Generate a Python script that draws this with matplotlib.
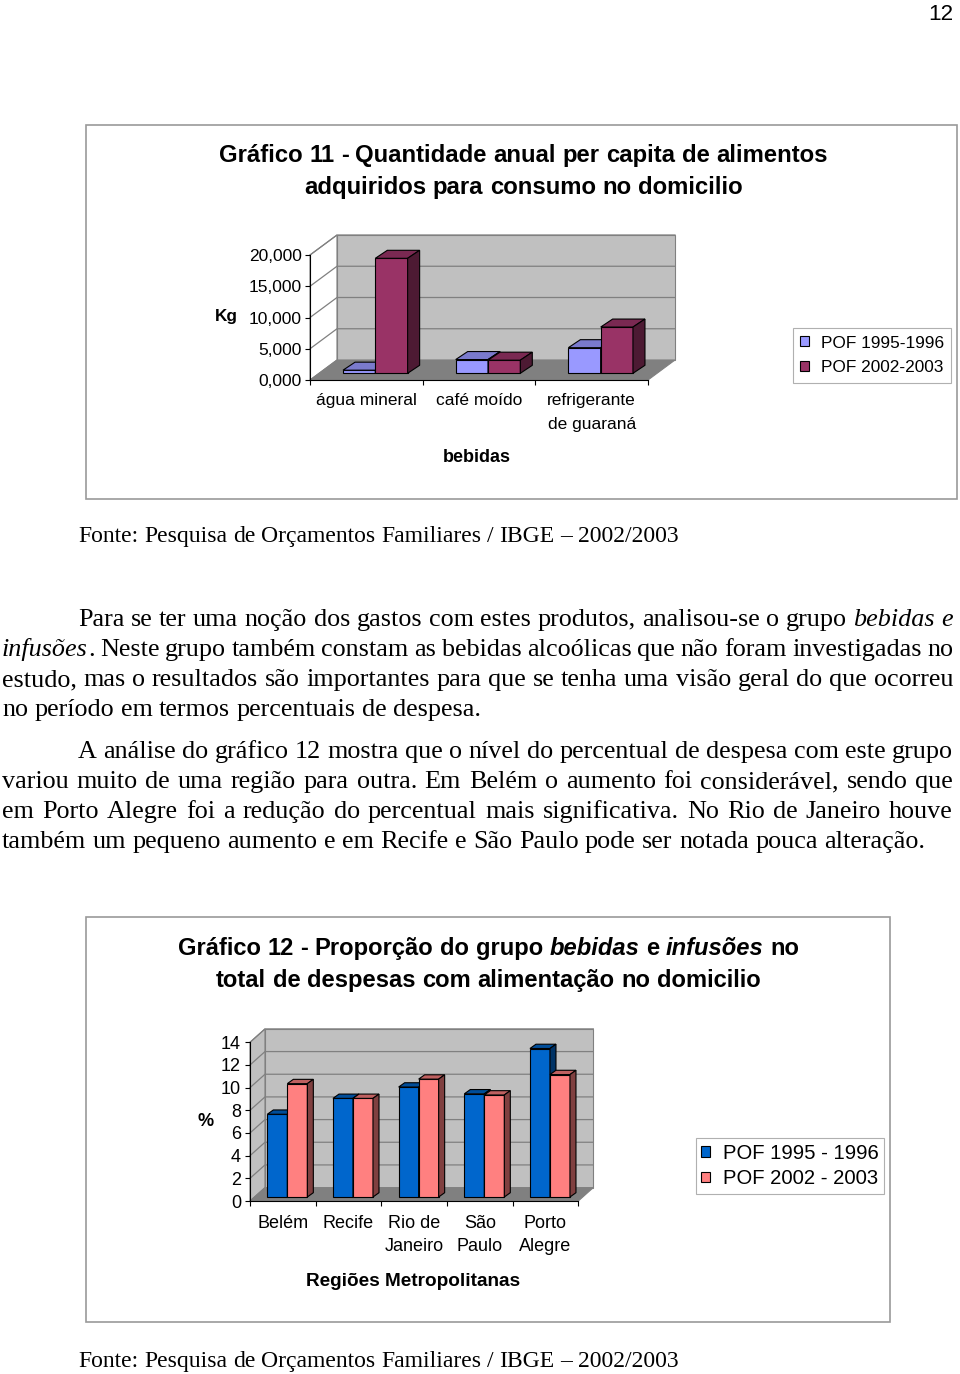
import numpy as np
import matplotlib
matplotlib.use('Agg')
import matplotlib.pyplot as plt
from matplotlib.patches import Polygon, Rectangle

# ---------------- data ----------------
cats1 = ['água mineral', 'café moído', 'refrigerante\nde guaraná']
pof95_kg = [0.5, 2.2, 4.1]
pof02_kg = [18.4, 2.1, 7.4]
yticks1 = [0, 5, 10, 15, 20]
ylabels1 = ['0,000', '5,000', '10,000', '15,000', '20,000']
series1 = ['POF 1995-1996', 'POF 2002-2003']

cats2 = ['Belém', 'Recife', 'Rio de\nJaneiro', 'São\nPaulo', 'Porto\nAlegre']
pof95_pct = [7.3, 8.7, 9.7, 9.1, 13.1]
pof02_pct = [10.0, 8.7, 10.4, 9.0, 10.8]
yticks2 = [0, 2, 4, 6, 8, 10, 12, 14]
ylabels2 = ['0', '2', '4', '6', '8', '10', '12', '14']
series2 = ['POF 1995 - 1996', 'POF 2002 - 2003']

# ---------------- page ----------------
W, H = 960, 1374
SANS = 'Liberation Sans'
SERIF = 'Liberation Serif'
fig = plt.figure(figsize=(W / 100, H / 100), dpi=100)
pg = fig.add_axes([0, 0, 1, 1], zorder=0)
pg.set_xlim(0, W)
pg.set_ylim(H, 0)
pg.axis('off')
R = fig.canvas.get_renderer()


def tw(s, **kw):
    t = pg.text(0, 0, s, **kw)
    w = t.get_window_extent(renderer=R).width
    t.remove()
    return w


def parse(line, base_w='normal'):
    words = []
    ital = False
    for tok in line.split(' '):
        segs = []
        for i, p in enumerate(tok.split('*')):
            if i > 0:
                ital = not ital
            if p:
                segs.append((p, base_w, 'italic' if ital else 'normal'))
        words.append(segs)
    return words


def line_widths(words, fs, fam):
    return [[tw(s, fontsize=fs, family=fam, fontweight=w, fontstyle=st)
             for s, w, st in word] for word in words]


def space_w(fs, fam, w='normal'):
    return tw('n n', fontsize=fs, family=fam, fontweight=w) - tw('nn', fontsize=fs, family=fam, fontweight=w)


def natural_width(line, fs, fam, base_w='normal'):
    words = parse(line, base_w)
    ww = line_widths(words, fs, fam)
    return sum(sum(a) for a in ww) + space_w(fs, fam, base_w) * (len(words) - 1)


def render_line(line, x0, y, fs, fam, x1=None, ha='left', base_w='normal'):
    words = parse(line, base_w)
    ww = line_widths(words, fs, fam)
    totals = [sum(a) for a in ww]
    if x1 is not None and len(words) > 1:
        gap = (x1 - x0 - sum(totals)) / (len(words) - 1)
    else:
        gap = space_w(fs, fam, base_w)
    total = sum(totals) + gap * (len(words) - 1)
    x = x0 - total / 2 if ha == 'center' else x0
    for word, wl in zip(words, ww):
        for (s, w, st), sw in zip(word, wl):
            pg.text(x, y, s, fontsize=fs, family=fam, fontweight=w, fontstyle=st,
                    va='baseline', ha='left', color='black')
            x += sw
        x += gap


# page number
pg.text(953, 20, '12', fontsize=16.2, family=SANS, ha='right', va='baseline')

# boxes
pg.add_patch(Rectangle((85.5, 125), 871, 374, fc='white', ec='#9a9a9a', lw=1.2))
pg.add_patch(Rectangle((85.5, 917), 804, 405, fc='white', ec='#9a9a9a', lw=1.2))

# titles
t1a = 'Gráfico 11 - Quantidade anual per capita de alimentos'
t1b = 'adquiridos para consumo no domicilio'
fs_t1 = 10 * 609 / natural_width(t1a, 10, SANS, 'bold')
render_line(t1a, 523.5, 162, fs_t1, SANS, ha='center', base_w='bold')
render_line(t1b, 523.5, 194, fs_t1, SANS, ha='center', base_w='bold')

t2a = 'Gráfico 12 - Proporção do grupo *bebidas* e *infusões* no'
t2b = 'total de despesas com alimentação no domicilio'
fs_t2 = 10 * 623 / natural_width(t2a, 10, SANS, 'bold')
render_line(t2a, 488.5, 955, fs_t2, SANS, ha='center', base_w='bold')
render_line(t2b, 488.5, 987, fs_t2, SANS, ha='center', base_w='bold')

# body text
para1 = ['Para se ter uma noção dos gastos com estes produtos, analisou-se o grupo *bebidas e*',
         '*infusões*. Neste grupo também constam as bebidas alcoólicas que não foram investigadas no',
         'estudo, mas o resultados são importantes para que se tenha uma visão geral do que ocorreu',
         'no período em termos percentuais de despesa.']
para2 = ['A análise do gráfico 12 mostra que o nível do percentual de despesa com este grupo',
         'variou muito de uma região para outra. Em Belém o aumento foi considerável, sendo que',
         'em Porto Alegre foi a redução do percentual mais significativa. No Rio de Janeiro houve',
         'também um pequeno aumento e em Recife e São Paulo pode ser notada pouca alteração.']
LM, RM, IND = 2, 953, 78
targets = [(para1[0], RM - IND), (para1[1], RM - LM), (para1[2], RM - LM), (para1[3], 474),
           (para2[0], RM - IND), (para2[1], RM - LM), (para2[2], RM - LM), (para2[3], 912)]
fits = [10 * t / natural_width(s, 10, SERIF) for s, t in targets]
fs_b = float(np.mean(fits))

fonte = 'Fonte: Pesquisa de Orçamentos Familiares / IBGE – 2002/2003'
fs_f = 10 * 602 / natural_width(fonte, 10, SERIF)
render_line(fonte, 78, 542, fs_f, SERIF)
render_line(fonte, 78, 1367, fs_f, SERIF)

for para, y0 in ((para1, 626), (para2, 758)):
    for i, ln in enumerate(para):
        x0 = IND if i == 0 else LM
        last = i == len(para) - 1
        render_line(ln, x0, y0 + 30 * i, fs_b, SERIF, x1=None if last else RM)


# ---------------- 3D-look column charts ----------------
def shade(c, f):
    c = matplotlib.colors.to_rgb(c)
    return tuple(v * f for v in c)


def chart3d(left, right, y0, ytop, ymax, cats, s1, s2, yticks, ylabels, names, colors,
            depth, foff, bdepth, bw_px, side_fill, fs_tick, ypad, xpad, ylab, ylab_xy,
            xlab, xlab_xy, fs_lab, leg_c, fs_leg, leg_kw, top_f, lsp):
    n = len(cats)
    ax = fig.add_axes([left / W, 1 - y0 / H, (right - left) / W, (y0 - ytop) / H], zorder=2)
    ax.set_xlim(0, n)
    ax.set_ylim(0, ymax)
    ax.patch.set_visible(False)
    sx = (right - left) / n           # px per category
    sy = (y0 - ytop) / ymax           # px per unit
    DX, DY = depth[0] / sx, depth[1] / sy
    fx, fy = foff[0] / sx, foff[1] / sy
    bdx, bdy = bdepth[0] / sx, bdepth[1] / sy
    bw = bw_px / sx
    wall, floor, grid = '#C0C0C0', '#808080', '#808080'
    ymx = yticks[-1]
    ax.add_patch(Polygon([(0, 0), (0, ymx), (DX, ymx + DY), (DX, DY)], closed=True,
                         fc=side_fill, ec=grid, lw=0.8, clip_on=False, zorder=1))
    ax.add_patch(Polygon([(DX, DY), (n + DX, DY), (n + DX, ymx + DY), (DX, ymx + DY)], closed=True,
                         fc=wall, ec=grid, lw=0.8, clip_on=False, zorder=1))
    ax.add_patch(Polygon([(0, 0), (n, 0), (n + DX, DY), (DX, DY)], closed=True,
                         fc=floor, ec=grid, lw=0.8, clip_on=False, zorder=1.2))
    for v in yticks[1:]:
        ax.plot([0, DX, n + DX], [v, v + DY, v + DY], color=grid, lw=0.9,
                clip_on=False, zorder=1.1)
    x = np.arange(n)
    handles = []
    for k, (vals, xs, col) in enumerate(((s1, x + 0.5 - bw + fx, colors[0]),
                                         (s2, x + 0.5 + fx, colors[1]))):
        z = 3 + k
        bars = ax.bar(xs, vals, width=bw, bottom=fy, align='edge', color=col,
                      edgecolor='black', lw=0.8, zorder=z, clip_on=False)
        handles.append(bars)
        for x0, h in zip(xs, vals):
            top = [(x0, fy + h), (x0 + bw, fy + h), (x0 + bw + bdx, fy + h + bdy), (x0 + bdx, fy + h + bdy)]
            side = [(x0 + bw, fy), (x0 + bw, fy + h), (x0 + bw + bdx, fy + h + bdy), (x0 + bw + bdx, fy + bdy)]
            ax.add_patch(Polygon(top, closed=True, fc=shade(col, top_f), ec='black', lw=0.8,
                                 zorder=z, clip_on=False))
            ax.add_patch(Polygon(side, closed=True, fc=shade(col, 0.5), ec='black', lw=0.8,
                                 zorder=z, clip_on=False))
    for s in ('top', 'right'):
        ax.spines[s].set_visible(False)
    for s in ('left', 'bottom'):
        ax.spines[s].set_color('black')
        ax.spines[s].set_linewidth(0.8)
        ax.spines[s].set_zorder(2)
    ax.set_yticks(yticks)
    ax.set_yticklabels(ylabels, fontsize=fs_tick, family=SANS)
    ax.tick_params(axis='y', direction='out', length=3.6, width=0.8, pad=ypad)
    ax.set_xticks(np.arange(n + 1))
    ax.set_xticklabels([])
    ax.set_xticks(x + 0.5, minor=True)
    ax.set_xticklabels(cats, minor=True, fontsize=fs_tick, family=SANS)
    ax.tick_params(axis='x', which='major', direction='out', length=3.6, width=0.8)
    ax.tick_params(axis='x', which='minor', length=0, pad=xpad)
    for t in ax.get_xminorticklabels():
        t.set_linespacing(lsp)
    ax.set_ylabel(ylab, rotation=0, fontsize=fs_lab, fontweight='bold', family=SANS)
    ax.yaxis.set_label_coords((ylab_xy[0] - left) / (right - left), (y0 - ylab_xy[1]) / (y0 - ytop))
    ax.yaxis.label.set_ha('center')
    ax.yaxis.label.set_va('center')
    ax.set_xlabel(xlab, fontsize=fs_lab + 0.7, fontweight='bold', family=SANS)
    ax.xaxis.set_label_coords((xlab_xy[0] - left) / (right - left), (y0 - xlab_xy[1]) / (y0 - ytop))
    ax.xaxis.label.set_va('center')
    leg = ax.legend(handles, names, loc='center', bbox_to_anchor=(leg_c[0] / W, 1 - leg_c[1] / H),
                    bbox_transform=fig.transFigure, prop=dict(family=SANS, size=fs_leg),
                    frameon=True, fancybox=False, framealpha=1, edgecolor='#b0b0b0',
                    borderaxespad=0, **leg_kw)
    leg.get_frame().set_linewidth(0.8)
    return ax


chart3d(310, 648, 380, 255, 20, cats1, pof95_kg, pof02_kg, yticks1, ylabels1, series1,
        ['#9999FF', '#993366'], depth=(27, 20), foff=(9, 6.7), bdepth=(12, 8), bw_px=32.3,
        side_fill='white', fs_tick=12.5, ypad=2.2, xpad=9.5, ylab='Kg', ylab_xy=(226, 316),
        xlab='bebidas', xlab_xy=(477, 458), fs_lab=12.3, leg_c=(872, 355.5), fs_leg=12.4,
        leg_kw=dict(borderpad=0.44, labelspacing=0.58, handlelength=0.5, handleheight=0.5,
                    handletextpad=0.7), top_f=0.8, lsp=1.7)

chart3d(250, 578.3, 1201, 1042.3, 14, cats2, pof95_pct, pof02_pct, yticks2, ylabels2, series2,
        ['#0066CC', '#FF8080'], depth=(15, 13.4), foff=(4.5, 4), bdepth=(6, 4.3), bw_px=20,
        side_fill='#C0C0C0', fs_tick=13, ypad=2.9, xpad=10, ylab='%', ylab_xy=(206, 1122),
        xlab='Regiões Metropolitanas', xlab_xy=(413, 1282), fs_lab=13, leg_c=(790, 1166),
        fs_leg=14.6, leg_kw=dict(borderpad=0.28, labelspacing=0.3, handlelength=0.42,
                                 handleheight=0.42, handletextpad=0.65), top_f=0.75, lsp=1.5)

fig.savefig('out.png', dpi=100)
